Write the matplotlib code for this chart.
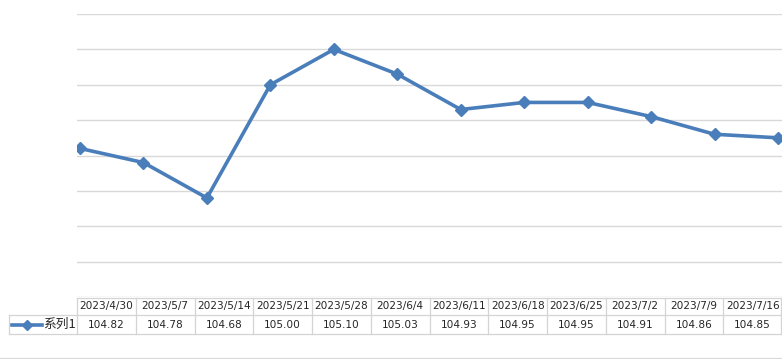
import matplotlib
matplotlib.use("Agg")
import matplotlib.pyplot as plt
from matplotlib.lines import Line2D

categories = ["2023/4/30", "2023/5/7", "2023/5/14", "2023/5/21", "2023/5/28", "2023/6/4",
              "2023/6/11", "2023/6/18", "2023/6/25", "2023/7/2", "2023/7/9", "2023/7/16"]
values = [104.82, 104.78, 104.68, 105.00, 105.10, 105.03, 104.93, 104.95, 104.95, 104.91, 104.86, 104.85]
series_name = "系列1"
y_ticks = [104.4, 104.5, 104.6, 104.7, 104.8, 104.9, 105.0, 105.1, 105.2]

W, H = 782, 359
fig = plt.figure(figsize=(W / 100, H / 100), dpi=100)
fig.patch.set_facecolor("white")

def fx(x):
    return x / W

def fy(y):
    return 1 - y / H

ax_l, ax_r, ax_t, ax_b = 77, 782, 14, 297
ax = fig.add_axes([fx(ax_l), fy(ax_b), fx(ax_r - ax_l), (ax_b - ax_t) / H])
ax.set_ylim(y_ticks[0], y_ticks[-1])
ax.set_yticks(y_ticks)
ax.set_yticklabels([])
ax.tick_params(left=False, bottom=False, labelbottom=False)
for s in ax.spines.values():
    s.set_visible(False)
ax.grid(axis="y", color="#D9D9D9", linewidth=1)
ax.set_axisbelow(True)

x = list(range(len(values)))
step = 63.45
ax.set_xlim(-3 / step, len(values) - 1 + 4 / step)
color = "#4A7EBB"
ax.plot(x, values, color=color, linewidth=2.6, marker="D", markersize=6.5,
        markerfacecolor=color, markeredgecolor=color, solid_joinstyle="round")

# data table
grid_c = "#D4D4D4"
t_top, t_mid, t_bot = 297.5, 315, 334
col_w = (782 - 77) / len(categories)
legend_l = 9

def hline(y, x0, x1, c=grid_c):
    fig.add_artist(Line2D([fx(x0), fx(x1)], [fy(y), fy(y)], color=c, linewidth=0.9))

def vline(xp, y0, y1, c=grid_c):
    fig.add_artist(Line2D([fx(xp), fx(xp)], [fy(y0), fy(y1)], color=c, linewidth=0.9))

hline(t_top, 77, 781)
hline(t_mid, legend_l, 781)
hline(t_bot, legend_l, 781)
vline(legend_l, t_mid, t_bot)
for i in range(len(categories) + 1):
    xp = min(77 + i * col_w, 781)
    vline(xp, t_top, t_bot)

for i, (c, v) in enumerate(zip(categories, values)):
    cx = 77 + (i + 0.5) * col_w
    fig.text(fx(cx), fy((t_top + t_mid) / 2), c, ha="center", va="center",
             fontsize=7.6, color="#262626", family="DejaVu Sans")
    fig.text(fx(cx), fy((t_mid + t_bot) / 2), f"{v:.2f}", ha="center", va="center",
             fontsize=7.6, color="#262626", family="DejaVu Sans")

# legend key
ly = fy((t_mid + t_bot) / 2)
fig.add_artist(Line2D([fx(12), fx(42)], [ly, ly], color=color, linewidth=2.6))
fig.add_artist(Line2D([fx(27)], [ly], color=color, marker="D", markersize=5.0,
                      markerfacecolor=color, markeredgecolor=color))
fig.text(fx(43), ly, series_name, ha="left", va="center", fontsize=9.2,
         color="#262626", family=["Noto Sans CJK SC", "DejaVu Sans"])

# bottom border
hline(357.5, 0, 782, c="#D9D9D9")

fig.savefig("out.png", dpi=100, facecolor="white")
